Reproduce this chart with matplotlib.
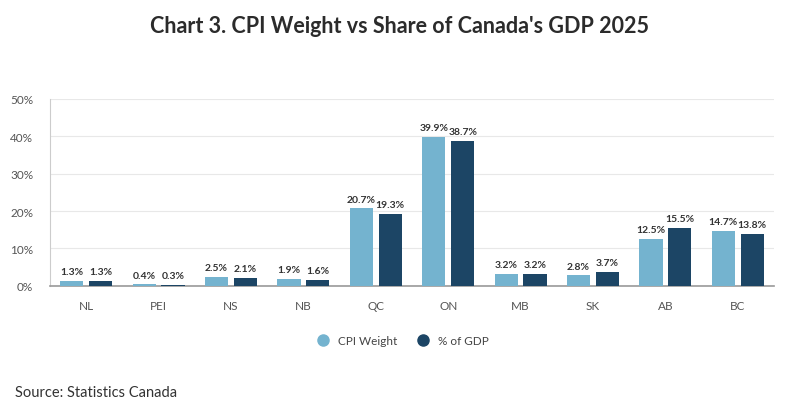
import matplotlib.pyplot as plt
import numpy as np

# Provinces and shares (%)
provinces = ['NL', 'PEI', 'NS', 'NB', 'QC', 'ON', 'MB', 'SK', 'AB', 'BC']
cpi_weight = [1.3, 0.4, 2.5, 1.9, 20.7, 39.9, 3.2, 2.8, 12.5, 14.7]
gdp_share = [1.3, 0.3, 2.1, 1.6, 19.3, 38.7, 3.2, 3.7, 15.5, 13.8]
yticks = [0, 10, 20, 30, 40, 50]

light = '#74b3cf'
dark = '#1c4565'

plt.rcParams['font.family'] = ['Lato', 'DejaVu Sans']

fig = plt.figure(figsize=(8, 4.14), dpi=100)
ax = fig.add_axes([0.0625, 0.307, 0.905, 0.452])

x = np.arange(len(provinces))
w = 0.32
off = 0.2
b1 = ax.bar(x - off, cpi_weight, w, color=light, label='CPI Weight', zorder=3)
b2 = ax.bar(x + off, gdp_share, w, color=dark, label='% of GDP', zorder=3)

for bars, vals in ((b1, cpi_weight), (b2, gdp_share)):
    for b, v in zip(bars, vals):
        ax.text(b.get_x() + b.get_width() / 2, v + 1.3, f'{v:.1f}%',
                ha='center', va='bottom', fontsize=7.5, fontweight='bold',
                color='#333333')

ax.set_xlim(-0.5, 9.5)
ax.set_ylim(0, 50)
ax.set_yticks(yticks)
ax.set_yticklabels([f'{t}%' for t in yticks])
ax.set_xticks(x)
ax.set_xticklabels(provinces)
ax.tick_params(axis='both', length=0, labelsize=8.5, colors='#555555')
ax.tick_params(axis='x', pad=10)
ax.tick_params(axis='y', pad=12)
ax.grid(axis='y', color='#e8e8e8', linewidth=0.8, zorder=0)

for s in ('top', 'right'):
    ax.spines[s].set_visible(False)
ax.spines['left'].set_color('#cccccc')
ax.spines['bottom'].set_color('#999999')
ax.spines['bottom'].set_linewidth(1.2)

handles = [plt.Line2D([], [], marker='o', linestyle='', markersize=8,
                      color=c) for c in (light, dark)]
fig.legend(handles, ['CPI Weight', '% of GDP'], loc='center',
           bbox_to_anchor=(0.5, 0.176), ncol=2, frameon=False,
           fontsize=8.5, handletextpad=0.3, columnspacing=1.2,
           labelcolor='#444444')

fig.text(0.5, 0.935, "Chart 3. CPI Weight vs Share of Canada's GDP 2025",
         ha='center', va='center', fontsize=15.5, fontweight='bold',
         color='#2b2b2b')
fig.text(0.019, 0.05, 'Source: Statistics Canada', ha='left', va='center',
         fontsize=10.5, color='#333333')

fig.savefig('out.png', dpi=100)
